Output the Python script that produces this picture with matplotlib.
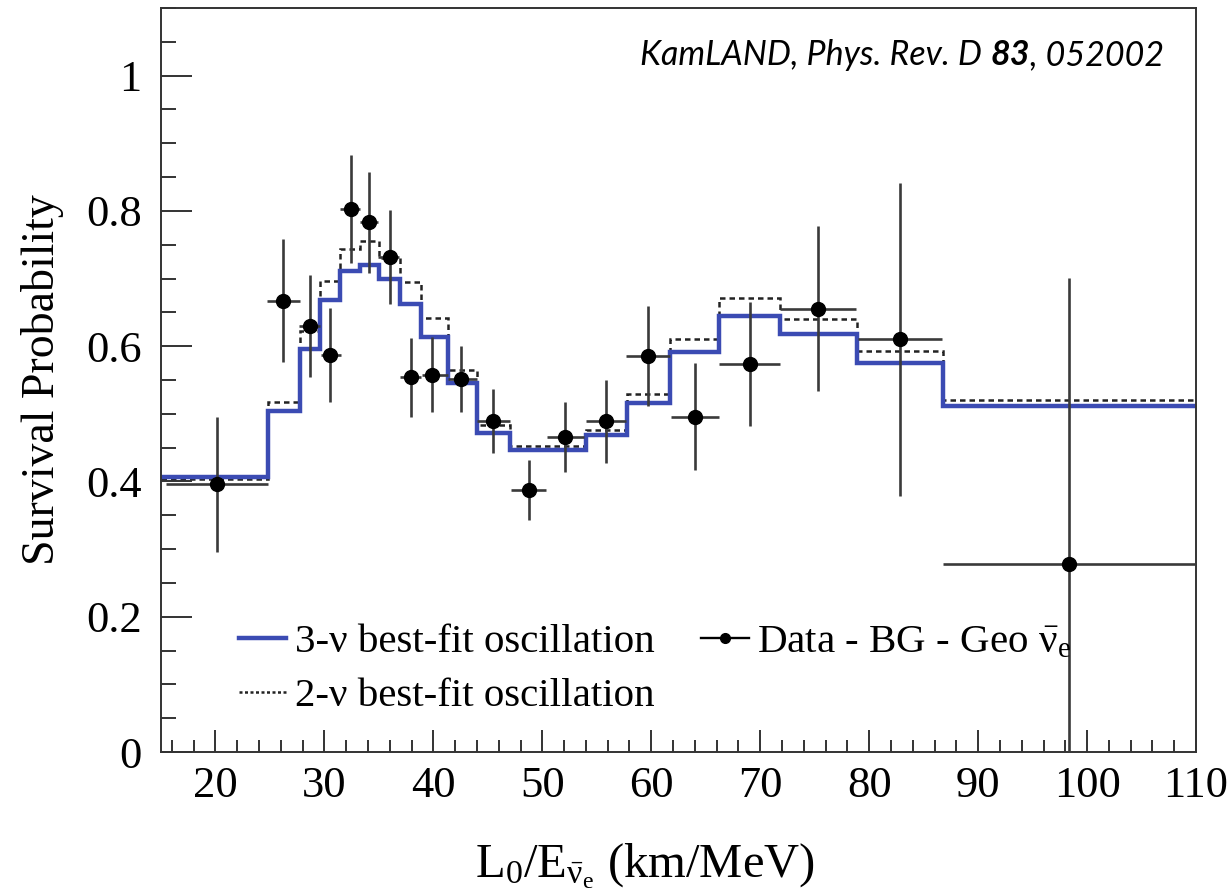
import matplotlib
matplotlib.use("Agg")
import matplotlib.pyplot as plt
from matplotlib.lines import Line2D
from matplotlib.ticker import MultipleLocator
import numpy as np

# best-fit oscillation histograms (L0/E bins, km/MeV)
edges = [15, 24.8, 27.8, 29.6, 31.4, 33.3, 35.0, 36.9, 38.9, 41.3, 44.0,
         47.0, 54.0, 57.8, 61.7, 66.2, 71.8, 78.9, 86.8, 110]
p_3nu = [0.407, 0.504, 0.596, 0.669, 0.711, 0.720, 0.699, 0.663, 0.614, 0.546,
         0.471, 0.447, 0.469, 0.516, 0.591, 0.645, 0.618, 0.575, 0.511]
p_2nu = [0.403, 0.517, 0.622, 0.697, 0.744, 0.755, 0.730, 0.695, 0.641, 0.565,
         0.484, 0.452, 0.476, 0.529, 0.611, 0.671, 0.640, 0.593, 0.521]

# data - BG - geo points
data_x = [20.1, 26.2, 28.7, 30.5, 32.4, 34.1, 36.0, 37.9, 39.9, 42.5,
          45.5, 48.8, 52.1, 55.8, 59.7, 64.0, 69.1, 75.3, 82.8, 98.3]
data_y = [0.396, 0.667, 0.630, 0.587, 0.803, 0.783, 0.732, 0.554, 0.558, 0.551,
          0.489, 0.387, 0.466, 0.489, 0.585, 0.496, 0.574, 0.655, 0.610, 0.278]
data_yerr = [0.100, 0.091, 0.075, 0.070, 0.080, 0.075, 0.069, 0.058, 0.055, 0.049,
             0.047, 0.044, 0.052, 0.061, 0.074, 0.079, 0.092, 0.122, 0.231, 0.423]
bin_lo = [15.5, 24.7, 27.7, 29.7, 31.4, 33.3, 34.9, 36.9, 39.0, 41.3,
          44.0, 47.1, 50.4, 54.0, 57.7, 61.8, 66.2, 71.8, 79.0, 86.8]
bin_hi = [24.8, 27.8, 29.6, 31.5, 33.3, 34.9, 36.8, 38.9, 41.3, 44.0,
          47.0, 50.3, 53.8, 57.7, 61.7, 66.2, 71.8, 78.8, 86.7, 110]

plt.rcParams["font.family"] = "Liberation Serif"
plt.rcParams["mathtext.fontset"] = "custom"
plt.rcParams["mathtext.rm"] = "Liberation Serif"
plt.rcParams["mathtext.it"] = "Liberation Serif:italic"
plt.rcParams["mathtext.bf"] = "Liberation Serif:bold"

fig = plt.figure(figsize=(12.31, 8.96), dpi=100)
ax = fig.add_axes([0.1308, 0.1607, 0.8408, 0.8304])

blue = "#3b4bb3"
ax.stairs(p_2nu, edges, color="#222222", lw=1.8, ls=(0, (2.2, 1.6)), baseline=None)
ax.stairs(p_3nu, edges, color=blue, lw=3.2, baseline=None)

x = np.array(data_x)
xerr = [x - np.array(bin_lo), np.array(bin_hi) - x]
ax.errorbar(x, data_y, yerr=data_yerr, xerr=xerr, fmt="o", color="black",
            ms=10, ecolor="#3a3a3a", elinewidth=1.9, capsize=0, zorder=3)

ax.set_xlim(15, 110)
ax.set_ylim(0, 1.1)
ax.xaxis.set_major_locator(MultipleLocator(10))
ax.xaxis.set_minor_locator(MultipleLocator(2))
ax.yaxis.set_minor_locator(MultipleLocator(0.05))
ax.set_yticks([0, 0.2, 0.4, 0.6, 0.8, 1.0])
ax.set_yticklabels(["0", "0.2", "0.4", "0.6", "0.8", "1"])

ax.tick_params(which="both", direction="in", top=False, right=False,
               labelsize=32, color="#333333", width=1.4)
ax.tick_params(axis="y", which="major", length=22, pad=14)
ax.tick_params(axis="y", which="minor", length=11)
ax.tick_params(axis="x", which="major", length=16, pad=10)
ax.tick_params(axis="x", which="minor", length=8.5)
for sp in ax.spines.values():
    sp.set_linewidth(1.4)
    sp.set_color("#333333")

ax.set_ylabel("Survival Probability", fontsize=33, labelpad=16)
ax.set_xlabel(r"L$_0$/E$_{\bar{\mathrm{\nu}}_\mathrm{e}}$ (km/MeV)", fontsize=35)
ax.xaxis.set_label_coords(0.468, -0.12)

handles = [
    Line2D([], [], color=blue, lw=3.2),
    Line2D([], [], color="#222222", lw=1.8, ls=(0, (1.2, 1.0))),
    Line2D([], [], color="black", lw=1.7, marker="o", ms=7),
]
labels = ["3-\u03bd best-fit oscillation", "2-\u03bd best-fit oscillation",
          r"Data - BG - Geo $\bar{\mathrm{\nu}}_\mathrm{e}$"]
ax.legend(handles, labels, ncol=2, frameon=False, fontsize=29.5,
          loc="lower left", bbox_to_anchor=(0.04, 0.0),
          handlelength=1.15, handletextpad=0.2, columnspacing=1.15,
          labelspacing=0.4)

t1 = ax.text(0.463, 0.937, "KamLAND, Phys. Rev. D ", transform=ax.transAxes,
             fontsize=24.5, family="Lato", style="italic", va="center")
t2 = ax.annotate("83", xy=(1, 0), xycoords=t1, va="bottom", fontsize=24.5,
                 family="Lato", style="italic", weight="bold")
ax.annotate(", 052002", xy=(1, 0), xycoords=t2, va="bottom", fontsize=24.5,
            family="Lato", style="italic")

fig.savefig("out.png", dpi=100)
